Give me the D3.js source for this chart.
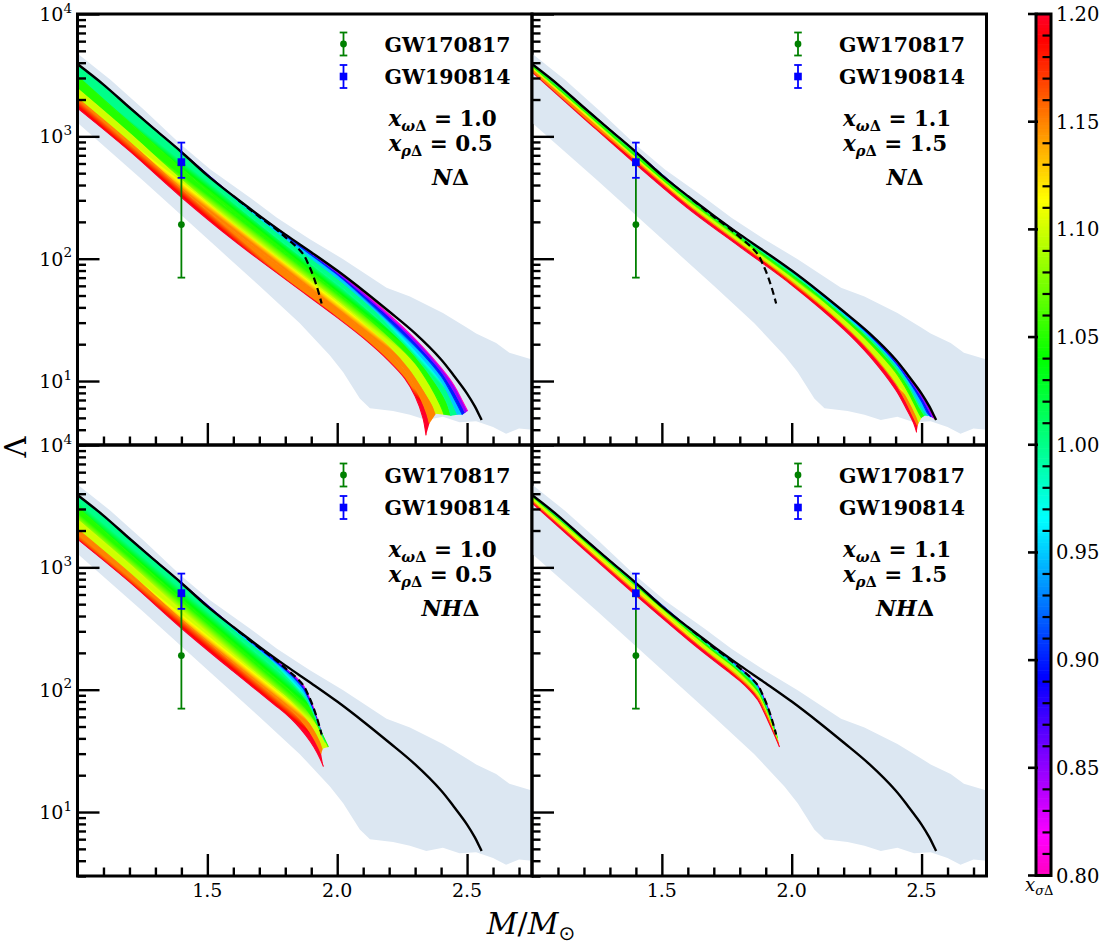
<!DOCTYPE html>
<html>
<head>
<meta charset="utf-8">
<title>Tidal deformability vs mass</title>
<script src="https://cdn.jsdelivr.net/npm/d3@7"></script>
<style>
  body { margin: 0; background: #fff; }
  #chart svg { display: block; }
</style>
</head>
<body>
<div id="chart"></div>
<script>
// ---- values: [M/Msun, Lambda] ----
const nucleonCurve = [[1.0,3900],[1.1,2650],[1.2,1720],[1.3,1130],[1.4,745],[1.5,480],[1.6,325],[1.7,225],[1.8,158],[1.9,113],[2.0,80],[2.1,55],[2.2,37],[2.3,24.5],[2.4,15],[2.45,11],[2.5,7.9],[2.53,6.2],[2.55,5.1],[2.556,4.8]];
const hyperonCurve = [[1.62,300],[1.70,220],[1.76,177],[1.80,150],[1.84,127],[1.87,108],[1.89,89],[1.908,72],[1.925,56],[1.94,43]];

// shaded constraint band (upper edge and lower edge, both left to right)
const bandUpper = [[1.0,4750],[1.128,2890],[1.256,1650],[1.397,860],[1.512,535],[1.665,315],[1.768,216],[1.895,144],[2.023,99],[2.19,58],[2.28,49],[2.407,36],[2.497,27.5],[2.535,24.5],[2.612,20.5],[2.663,17],[2.75,15]];
const bandLower = [[1.0,1290],[1.25,440],[1.549,117],[1.70,60],[1.856,29.7],[1.972,16.2],[2.023,11.8],[2.087,7.2],[2.126,6.0],[2.215,5.7],[2.28,5.3],[2.343,4.8],[2.407,5.1],[2.471,4.6],[2.535,4.7],[2.60,4.2],[2.65,3.7],[2.70,4.1],[2.75,4.0]];

const xsigmaLevels = [0.80, 0.85, 0.90, 0.95, 1.00, 1.05, 1.10, 1.15, 1.20];

// N-Delta, x_wD = 1.0, x_rD = 0.5
const lambdaNDeltaA = [
  [[1.0,3900],[1.2,1720],[1.4,745],[1.6,325],[1.8,158],[2.0,79],[2.1,53.5],[2.2,35],[2.3,22],[2.4,12.8],[2.45,9.2],[2.48,7],[2.502,5.7]],
  [[1.0,3900],[1.2,1720],[1.4,745],[1.6,325],[1.8,157],[2.0,77],[2.1,51.5],[2.2,33.5],[2.3,20.8],[2.4,12],[2.45,8.2],[2.493,5.5]],
  [[1.0,3900],[1.2,1720],[1.4,745],[1.6,324],[1.8,154],[2.0,74],[2.1,49],[2.2,31.5],[2.3,19.5],[2.4,11],[2.45,7.2],[2.482,5.3]],
  [[1.0,3900],[1.2,1720],[1.4,742],[1.6,318],[1.8,146],[2.0,69.5],[2.1,46],[2.2,29.5],[2.3,18],[2.4,10],[2.44,6.9],[2.463,5.3]],
  [[1.0,3870],[1.2,1670],[1.4,690],[1.6,288],[1.8,131],[2.0,62],[2.1,41],[2.2,26.5],[2.3,16],[2.38,9.5],[2.42,6.8],[2.438,5.2]],
  [[1.0,3100],[1.2,1300],[1.4,545],[1.6,235],[1.8,110],[2.0,53],[2.1,35.5],[2.2,23],[2.3,14],[2.36,9],[2.395,6.5],[2.412,5.3]],
  [[1.0,2450],[1.2,1060],[1.4,440],[1.6,195],[1.8,93],[2.0,45],[2.1,30],[2.2,19.5],[2.28,12.5],[2.34,8],[2.37,6.2],[2.38,5.4]],
  [[1.0,2050],[1.2,900],[1.4,375],[1.6,168],[1.8,80],[2.0,39],[2.1,26],[2.2,17],[2.27,11.3],[2.32,7.3],[2.345,5.4],[2.355,4.5]],
  [[1.0,1700],[1.2,760],[1.4,318],[1.6,142],[1.8,68],[2.0,33],[2.1,22.5],[2.2,14.5],[2.26,10.5],[2.3,7.5],[2.33,5],[2.342,3.6]]
];

// N-Delta, x_wD = 1.1, x_rD = 1.5
const lambdaNDeltaB = [
  [[1.0,3900],[1.2,1720],[1.4,745],[1.6,325],[1.8,158],[2.0,80],[2.2,37],[2.3,24.4],[2.4,14.9],[2.45,10.9],[2.5,7.8],[2.53,6.1],[2.55,4.9]],
  [[1.0,3900],[1.2,1720],[1.4,745],[1.6,325],[1.8,158],[2.0,80],[2.2,36.8],[2.3,24.1],[2.4,14.6],[2.45,10.6],[2.5,7.4],[2.525,5.9],[2.543,5.0]],
  [[1.0,3900],[1.2,1720],[1.4,745],[1.6,325],[1.8,158],[2.0,79.5],[2.2,36.3],[2.3,23.6],[2.4,14.1],[2.45,10.1],[2.5,6.8],[2.525,5.4],[2.536,5.1]],
  [[1.0,3900],[1.2,1720],[1.4,744],[1.6,323],[1.8,157],[2.0,78.5],[2.2,35.5],[2.3,23],[2.4,13.6],[2.45,9.6],[2.48,7.2],[2.515,5.5],[2.525,5.2]],
  [[1.0,3880],[1.2,1700],[1.4,735],[1.6,319],[1.8,154],[2.0,76.5],[2.2,34.3],[2.3,22],[2.4,12.8],[2.45,9],[2.49,6.2],[2.512,5.2]],
  [[1.0,3800],[1.2,1650],[1.4,705],[1.6,308],[1.8,148],[2.0,73],[2.2,32.5],[2.3,20.5],[2.4,11.8],[2.45,8],[2.485,5.7],[2.5,5.0]],
  [[1.0,3650],[1.2,1570],[1.4,665],[1.6,292],[1.8,140],[2.0,69],[2.2,30.5],[2.3,19],[2.4,10.5],[2.45,7],[2.48,5.2],[2.49,4.6]],
  [[1.0,3500],[1.2,1480],[1.4,628],[1.6,276],[1.8,133],[2.0,65],[2.2,28.5],[2.3,17.5],[2.4,9.5],[2.44,6.8],[2.47,5.0],[2.485,4.3]],
  [[1.0,3350],[1.2,1400],[1.4,590],[1.6,258],[1.8,125],[2.0,61],[2.2,26.5],[2.3,16],[2.4,8.5],[2.44,6],[2.47,4.5],[2.481,3.8]]
];

// N-H-Delta, x_wD = 1.0, x_rD = 0.5
const lambdaNHDeltaA = [
  [[1.0,3900],[1.2,1720],[1.4,745],[1.6,325],[1.7,220],[1.76,177],[1.80,150],[1.84,127],[1.87,108],[1.89,89],[1.908,72],[1.925,56],[1.94,43]],
  [[1.0,3900],[1.2,1720],[1.4,745],[1.6,325],[1.7,219],[1.76,176],[1.80,149],[1.84,125],[1.87,106],[1.89,87],[1.908,70],[1.925,54],[1.942,42]],
  [[1.0,3900],[1.2,1720],[1.4,745],[1.6,323],[1.7,217],[1.76,173],[1.80,146],[1.84,121],[1.87,102],[1.89,84],[1.91,67],[1.93,51],[1.945,41]],
  [[1.0,3900],[1.2,1720],[1.4,740],[1.6,315],[1.7,210],[1.76,165],[1.80,139],[1.84,114],[1.87,96],[1.89,80],[1.91,64],[1.93,49],[1.95,39]],
  [[1.0,3870],[1.2,1670],[1.4,690],[1.6,288],[1.7,192],[1.76,150],[1.80,127],[1.84,104],[1.88,83],[1.91,63],[1.935,47],[1.955,37]],
  [[1.0,3100],[1.2,1300],[1.4,545],[1.6,233],[1.7,157],[1.76,124],[1.80,105],[1.84,87],[1.88,70],[1.91,57],[1.94,44],[1.966,34]],
  [[1.0,2450],[1.2,1060],[1.4,440],[1.6,193],[1.7,130],[1.76,103],[1.80,88],[1.84,73],[1.88,59],[1.91,48],[1.935,38],[1.945,33]],
  [[1.0,2050],[1.2,900],[1.4,375],[1.6,166],[1.7,112],[1.76,89],[1.80,76],[1.84,63],[1.88,50],[1.91,40],[1.93,33],[1.938,30]],
  [[1.0,1700],[1.2,760],[1.4,318],[1.6,141],[1.7,95],[1.76,75],[1.80,64],[1.84,53],[1.88,42],[1.91,34],[1.935,27],[1.947,23.5]]
];

// N-H-Delta, x_wD = 1.1, x_rD = 1.5
const lambdaNHDeltaB = [
  [[1.0,3900],[1.2,1720],[1.4,745],[1.6,325],[1.7,220],[1.76,177],[1.80,150],[1.84,127],[1.87,108],[1.89,89],[1.908,72],[1.925,56],[1.94,43]],
  [[1.0,3900],[1.2,1720],[1.4,745],[1.6,325],[1.7,220],[1.76,177],[1.80,150],[1.84,127],[1.87,107],[1.89,88],[1.908,71],[1.925,55],[1.94,42.5]],
  [[1.0,3900],[1.2,1720],[1.4,745],[1.6,325],[1.7,219],[1.76,176],[1.80,149],[1.84,126],[1.87,106],[1.89,87],[1.908,70],[1.925,54],[1.94,42]],
  [[1.0,3900],[1.2,1720],[1.4,744],[1.6,323],[1.7,217],[1.76,174],[1.80,147],[1.84,124],[1.87,104],[1.89,85],[1.91,67],[1.928,52],[1.942,42]],
  [[1.0,3880],[1.2,1700],[1.4,735],[1.6,318],[1.7,213],[1.76,170],[1.80,144],[1.84,121],[1.87,101],[1.89,83],[1.91,65],[1.93,50],[1.944,41]],
  [[1.0,3800],[1.2,1650],[1.4,705],[1.6,306],[1.7,205],[1.76,164],[1.80,139],[1.84,116],[1.87,97],[1.89,80],[1.91,63],[1.93,49],[1.946,40]],
  [[1.0,3650],[1.2,1570],[1.4,665],[1.6,290],[1.7,195],[1.76,156],[1.80,132],[1.84,110],[1.87,92],[1.89,76],[1.91,61],[1.93,47],[1.948,38]],
  [[1.0,3500],[1.2,1480],[1.4,628],[1.6,273],[1.7,184],[1.76,147],[1.80,125],[1.84,104],[1.87,87],[1.89,72],[1.91,58],[1.93,45],[1.95,36]],
  [[1.0,3350],[1.2,1400],[1.4,590],[1.6,256],[1.7,173],[1.76,138],[1.80,118],[1.84,98],[1.87,82],[1.89,68],[1.91,55],[1.935,42],[1.953,34]]
];

// gravitational-wave constraints at 1.4 Msun
const gwNames = ["GW170817", "GW190814"];
const gwMass = [1.4, 1.4];
const gwLambda = [190, 616];
const gwLow = [70, 458];
const gwHigh = [580, 889];

// panel annotations
const omegaValues = ["1.0", "1.1", "1.0", "1.1"];
const rhoValues = ["0.5", "1.5", "0.5", "1.5"];
const modelLabels = ["N", "N", "NH", "NH"];

// ticks
const yLabelExps = [1, 2, 3, 4];
const xMajorTicks = [1.5, 2.0, 2.5];
const xTickLabels = ["1.5", "2.0", "2.5"];
const cbarTicks = [0.80, 0.85, 0.90, 0.95, 1.00, 1.05, 1.10, 1.15, 1.20];

(function () {
  const W = 1110, H = 944;
  const PW = 454.5, PH = 431;

  const svg = d3.select("#chart").append("svg")
    .attr("width", W).attr("height", H)
    .attr("viewBox", `0 0 ${W} ${H}`)
    .style("font-family", "'DejaVu Serif', 'Liberation Serif', serif");
  const defs = svg.append("defs");

  // gist_rainbow reversed
  const rbNodes = [0, 0.03, 0.215, 0.4, 0.586, 0.77, 0.954, 1];
  const rbRGB = [[1,0,0.16],[1,0,0],[1,1,0],[0,1,0],[0,1,1],[0,0,1],[1,0,1],[1,0,0.75]];
  function rainbowR(t) {
    const u = 1 - Math.max(0, Math.min(1, t));
    let k = 0;
    while (k < rbNodes.length - 2 && u > rbNodes[k + 1]) k++;
    const f = (u - rbNodes[k]) / (rbNodes[k + 1] - rbNodes[k]);
    const c = rbRGB[k].map((a, j) => a + (rbRGB[k + 1][j] - a) * f);
    return d3.rgb(c[0] * 255, c[1] * 255, c[2] * 255).formatHex();
  }
  const sigmaColor = v => rainbowR((v - 0.8) / 0.4);

  function nearestOnPolyline(p, pts) {
    let best = { d: Infinity, q: pts[0] };
    for (let k = 0; k < pts.length - 1; k++) {
      const a = pts[k], b = pts[k + 1];
      const dx = b[0] - a[0], dy = b[1] - a[1];
      const L = dx * dx + dy * dy || 1e-9;
      let t = ((p[0] - a[0]) * dx + (p[1] - a[1]) * dy) / L;
      t = Math.max(0, Math.min(1, t));
      const q = [a[0] + t * dx, a[1] + t * dy];
      const d = Math.hypot(p[0] - q[0], p[1] - q[1]);
      if (d < best.d) best = { d, q };
    }
    return best;
  }

  const panels = [
    { fam: lambdaNDeltaA,  left: 77.5, top: 14,  col: 0, row: 0 },
    { fam: lambdaNDeltaB,  left: 532,  top: 14,  col: 1, row: 0 },
    { fam: lambdaNHDeltaA, left: 77.5, top: 445, col: 0, row: 1 },
    { fam: lambdaNHDeltaB, left: 532,  top: 445, col: 1, row: 1 }
  ];

  panels.forEach((p, i) => {
    const x = d3.scaleLinear().domain([1.0, 2.75]).range([p.left, p.left + PW]);
    const y = d3.scaleLog().domain([3, 1e4]).range([p.top + PH, p.top]);
    const line = d3.line().x(d => x(d[0])).y(d => y(d[1])).curve(d3.curveCatmullRom.alpha(0.5));
    const poly = d3.line().x(d => x(d[0])).y(d => y(d[1]));

    defs.append("clipPath").attr("id", `clip${i}`)
      .append("rect").attr("x", p.left).attr("y", p.top).attr("width", PW).attr("height", PH);

    const g = svg.append("g");
    const plot = g.append("g").attr("clip-path", `url(#clip${i})`);

    // constraint band
    plot.append("path")
      .attr("d", poly(bandUpper.concat(bandLower.slice().reverse())) + "Z")
      .attr("fill", "#dce7f2");

    // colour family: strips between neighbouring x_sigma curves, shaded across
    const fam = p.fam;
    for (let k = 0; k < fam.length - 1; k++) {
      const A = fam[k], B = fam[k + 1];
      const pa = A.map(d => [x(d[0]), y(d[1])]);
      const pb = B.map(d => [x(d[0]), y(d[1])]);
      const cands = [];
      for (let j = 1; j < pa.length - 1; j++) {
        const tx = pa[j + 1][0] - pa[j - 1][0], ty = pa[j + 1][1] - pa[j - 1][1];
        if (Math.abs(ty) > 1.6 * Math.abs(tx)) continue;
        const r = nearestOnPolyline(pa[j], pb);
        if (r.d > 0.8) cands.push({ j, d: r.d, q: r.q });
      }
      const v0 = xsigmaLevels[k], v1 = xsigmaLevels[k + 1];
      let fill = sigmaColor((v0 + v1) / 2);
      if (cands.length) {
        cands.sort((a, b) => a.d - b.d);
        const pick = cands[Math.floor((cands.length - 1) / 2)];
        const bi = pick.j, c = pa[bi];
        let tx = pa[bi + 1][0] - pa[bi - 1][0], ty = pa[bi + 1][1] - pa[bi - 1][1];
        const tl = Math.hypot(tx, ty); tx /= tl; ty /= tl;
        let nx = -ty, ny = tx;
        let proj = (pick.q[0] - c[0]) * nx + (pick.q[1] - c[1]) * ny;
        if (proj < 0) { nx = -nx; ny = -ny; proj = -proj; }
        proj = Math.max(proj, 1);
        const id = `grad${i}_${k}`;
        const grad = defs.append("linearGradient").attr("id", id)
          .attr("gradientUnits", "userSpaceOnUse")
          .attr("x1", c[0]).attr("y1", c[1])
          .attr("x2", c[0] + nx * proj).attr("y2", c[1] + ny * proj);
        d3.range(5).forEach(s => grad.append("stop")
          .attr("offset", s / 4)
          .attr("stop-color", sigmaColor(v0 + (v1 - v0) * s / 4)));
        fill = `url(#${id})`;
      }
      const dA = line(A);
      const dB = line(B.slice().reverse());
      plot.append("path")
        .attr("d", dA + "L" + dB.slice(1) + "Z")
        .attr("fill", fill)
        .attr("stroke", "none");
    }
    fam.forEach((c, k) => {
      plot.append("path")
        .attr("d", line(c))
        .attr("fill", "none")
        .attr("stroke", sigmaColor(xsigmaLevels[k]))
        .attr("stroke-width", 1.1);
    });

    // nucleonic and hyperonic reference curves
    plot.append("path").attr("d", line(nucleonCurve))
      .attr("fill", "none").attr("stroke", "#000").attr("stroke-width", 2.4);
    plot.append("path").attr("d", line(hyperonCurve))
      .attr("fill", "none").attr("stroke", "#000").attr("stroke-width", 2.2)
      .attr("stroke-dasharray", "7,4");

    // GW error bars
    const gwCol = ["#008000", "#0000ff"];
    gwNames.forEach((n, j) => {
      const cx = x(gwMass[j]);
      const eb = g.append("g").attr("stroke", gwCol[j]).attr("stroke-width", 1.8);
      eb.append("line").attr("x1", cx).attr("x2", cx).attr("y1", y(gwLow[j])).attr("y2", y(gwHigh[j]));
      [gwLow[j], gwHigh[j]].forEach(v => eb.append("line")
        .attr("x1", cx - 3.8).attr("x2", cx + 3.8).attr("y1", y(v)).attr("y2", y(v)));
      if (j === 0) {
        g.append("circle").attr("cx", cx).attr("cy", y(gwLambda[j])).attr("r", 3.4).attr("fill", gwCol[j]);
      } else {
        g.append("rect").attr("x", cx - 3.8).attr("y", y(gwLambda[j]) - 3.8)
          .attr("width", 7.6).attr("height", 7.6).attr("fill", gwCol[j]);
      }

      // legend entry
      const ly = p.top + 30 + j * 32.5, lx = p.left + 266;
      const le = g.append("g").attr("stroke", gwCol[j]).attr("stroke-width", 1.8);
      le.append("line").attr("x1", lx).attr("x2", lx).attr("y1", ly - 11.5).attr("y2", ly + 11.5);
      [-11.5, 11.5].forEach(o => le.append("line")
        .attr("x1", lx - 3.8).attr("x2", lx + 3.8).attr("y1", ly + o).attr("y2", ly + o));
      if (j === 0) g.append("circle").attr("cx", lx).attr("cy", ly).attr("r", 3.4).attr("fill", gwCol[j]);
      else g.append("rect").attr("x", lx - 3.8).attr("y", ly - 3.8).attr("width", 7.6).attr("height", 7.6).attr("fill", gwCol[j]);
      g.append("text").attr("x", p.left + 307).attr("y", ly + 7.5)
        .attr("font-size", 20.5).attr("font-weight", "bold").text(n);
    });

    // parameter annotations
    [["ω", omegaValues[i]], ["ρ", rhoValues[i]]].forEach(([sym, val], r) => {
      const t = g.append("text").attr("x", p.left + 311).attr("y", p.top + 112 + r * 25)
        .attr("font-size", 21.5).attr("font-weight", "bold");
      t.append("tspan").attr("font-style", "italic").text("x");
      t.append("tspan").attr("font-size", 14.5).attr("font-style", "italic").attr("dy", 5).text(sym);
      t.append("tspan").attr("font-size", 14.5).text("Δ");
      t.append("tspan").attr("dy", -5).text(" = " + val);
    });
    const mt = g.append("text").attr("x", p.left + 373).attr("y", p.top + 171)
      .attr("text-anchor", "middle").attr("font-size", 22).attr("font-weight", "bold");
    mt.append("tspan").attr("font-style", "italic").text(modelLabels[i]);
    mt.append("tspan").text("Δ");

    // axes ticks (inward)
    const yMajor = [10, 100, 1000, 10000];
    const yMinor = [];
    [1, 10, 100, 1000].forEach(dec => d3.range(2, 10).forEach(m => {
      const v = m * dec;
      if (v >= 3 && v < 1e4) yMinor.push(v);
    }));
    const xMinor = d3.range(11, 28).map(v => v / 10).filter(v => !xMajorTicks.some(t => Math.abs(t - v) < 1e-6));

    const styleTicks = sel => {
      sel.select(".domain").remove();
      sel.selectAll(".tick line").attr("stroke", "#000").attr("stroke-width", 2.4);
    };
    g.append("g").attr("transform", `translate(${p.left},0)`)
      .call(d3.axisLeft(y).tickValues(yMajor).tickSizeInner(-22).tickSizeOuter(0).tickFormat(""))
      .call(styleTicks);
    g.append("g").attr("transform", `translate(${p.left},0)`)
      .call(d3.axisLeft(y).tickValues(yMinor).tickSizeInner(-8.5).tickSizeOuter(0).tickFormat(""))
      .call(styleTicks);
    g.append("g").attr("transform", `translate(0,${p.top + PH})`)
      .call(d3.axisBottom(x).tickValues(xMajorTicks).tickSizeInner(-22).tickSizeOuter(0).tickFormat(""))
      .call(styleTicks);
    g.append("g").attr("transform", `translate(0,${p.top + PH})`)
      .call(d3.axisBottom(x).tickValues(xMinor).tickSizeInner(-8.5).tickSizeOuter(0).tickFormat(""))
      .call(styleTicks);

    // frame
    g.append("rect").attr("x", p.left).attr("y", p.top).attr("width", PW).attr("height", PH)
      .attr("fill", "none").attr("stroke", "#000").attr("stroke-width", 3);

    // tick labels
    if (p.col === 0) {
      yLabelExps.forEach(e => {
        const t = g.append("text").attr("x", p.left - 5.5).attr("y", y(Math.pow(10, e)) + 7)
          .attr("text-anchor", "end").attr("font-size", 19);
        t.append("tspan").text("10");
        t.append("tspan").attr("font-size", 13.5).attr("dy", -8.5).text(e);
      });
    }
    if (p.row === 1) {
      xMajorTicks.forEach((v, k) => {
        g.append("text").attr("x", x(v)).attr("y", p.top + PH + 21)
          .attr("text-anchor", "middle").attr("font-size", 19).text(xTickLabels[k]);
      });
    }
  });

  // axis titles
  const xl = svg.append("text").attr("x", 531).attr("y", 934)
    .attr("text-anchor", "middle").attr("font-size", 30);
  xl.append("tspan").attr("font-style", "italic").text("M");
  xl.append("tspan").text("/");
  xl.append("tspan").attr("font-style", "italic").text("M");
  xl.append("tspan").attr("font-size", 20).attr("dy", 6).style("font-family", "'DejaVu Sans', sans-serif").text("⊙");

  svg.append("text").attr("transform", "translate(26,447) rotate(-90)")
    .attr("text-anchor", "middle").attr("font-size", 29).text("Λ");

  // colour bar
  const cbL = 1036, cbR = 1051;
  const cy = d3.scaleLinear().domain([0.8, 1.2]).range([875.5, 14]);
  const nLev = 256;
  svg.append("g").selectAll("rect").data(d3.range(nLev)).join("rect")
    .attr("x", cbL).attr("width", cbR - cbL)
    .attr("y", k => cy(0.8 + (k + 1) * 0.4 / nLev))
    .attr("height", k => cy(0.8 + k * 0.4 / nLev) - cy(0.8 + (k + 1) * 0.4 / nLev) + 0.6)
    .attr("fill", k => rainbowR((k + 0.5) / nLev));

  const cbMinor = d3.range(80, 121).map(v => v / 100)
    .filter(v => !cbarTicks.some(t => Math.abs(t - v) < 1e-6));
  svg.append("g").selectAll("line").data(cbMinor).join("line")
    .attr("x1", cbR - 8.5).attr("x2", cbR).attr("y1", d => cy(d)).attr("y2", d => cy(d))
    .attr("stroke", "#000").attr("stroke-width", 2.2);
  svg.append("g").selectAll("line").data(cbarTicks).join("line")
    .attr("x1", cbL - 8).attr("x2", cbL + 2).attr("y1", d => cy(d)).attr("y2", d => cy(d))
    .attr("stroke", "#000").attr("stroke-width", 2.6);
  svg.append("rect").attr("x", cbL).attr("y", cy(1.2)).attr("width", cbR - cbL)
    .attr("height", cy(0.8) - cy(1.2)).attr("fill", "none").attr("stroke", "#000").attr("stroke-width", 3);
  svg.append("g").selectAll("text").data(cbarTicks).join("text")
    .attr("x", cbR + 5).attr("y", d => cy(d) + 7)
    .attr("font-size", 19.5).text(d => d3.format(".2f")(d));

  const cl = svg.append("text").attr("x", 1025).attr("y", 891).attr("font-size", 18);
  cl.append("tspan").attr("font-style", "italic").text("x");
  cl.append("tspan").attr("font-size", 13).attr("font-style", "italic").attr("dy", 4).text("σ");
  cl.append("tspan").attr("font-size", 13).text("Δ");
})();
</script>
</body>
</html>
